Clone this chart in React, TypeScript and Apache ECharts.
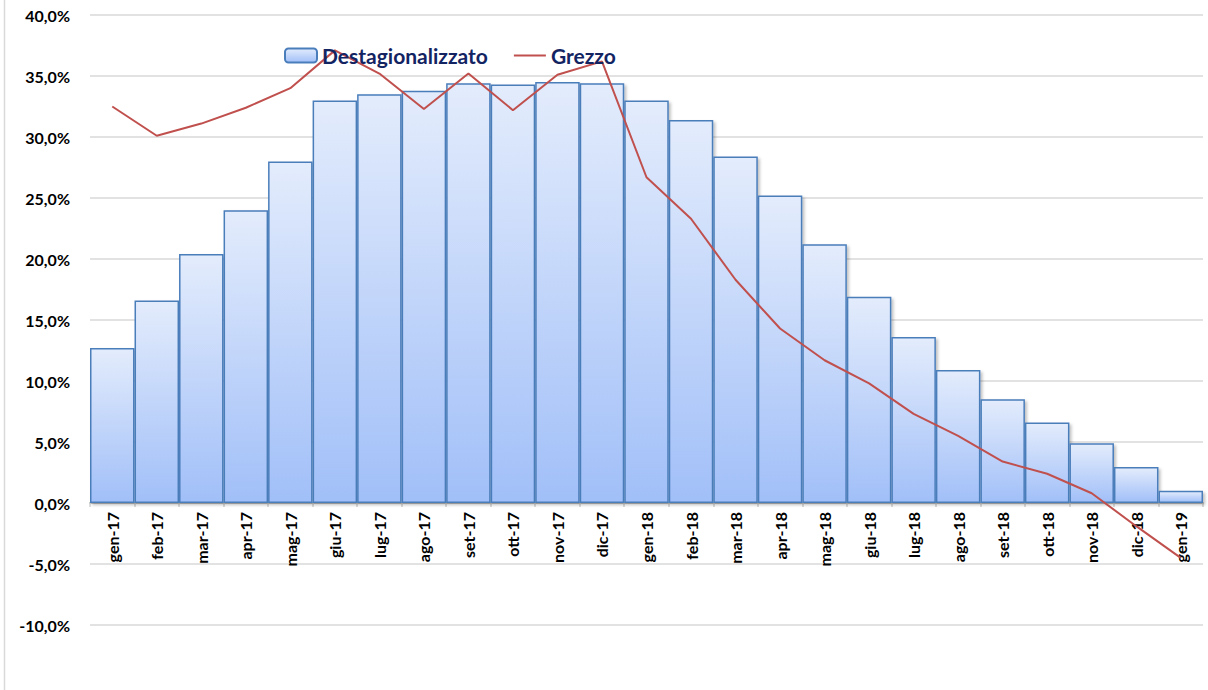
import React, { useEffect, useRef } from "react";
import * as echarts from "echarts";

const categories = [
  "gen-17", "feb-17", "mar-17", "apr-17", "mag-17", "giu-17", "lug-17", "ago-17",
  "set-17", "ott-17", "nov-17", "dic-17", "gen-18", "feb-18", "mar-18", "apr-18",
  "mag-18", "giu-18", "lug-18", "ago-18", "set-18", "ott-18", "nov-18", "dic-18", "gen-19",
];

const destagionalizzato = [
  12.7, 16.6, 20.4, 24.0, 28.0, 33.0, 33.5, 33.8, 34.4, 34.3, 34.5, 34.4,
  33.0, 31.4, 28.4, 25.2, 21.2, 16.9, 13.6, 10.9, 8.5, 6.6, 4.9, 2.95, 1.0,
];

const grezzo = [
  32.5, 30.1, 31.1, 32.4, 34.0, 37.1, 35.2, 32.3, 35.2, 32.2, 35.1, 36.2,
  26.7, 23.3, 18.3, 14.3, 11.7, 9.8, 7.3, 5.5, 3.4, 2.4, 0.8, -1.9, -4.5,
];

const FONT = "Lato, 'Liberation Sans', sans-serif";

export default function App() {
  const ref = useRef<HTMLDivElement>(null);

  useEffect(() => {
    if (!ref.current) return;
    const chart = echarts.init(ref.current, null, { renderer: "svg" });
    chart.setOption({
      animation: false,
      backgroundColor: "#ffffff",
      textStyle: { fontFamily: FONT },
      graphic: [
        {
          type: "line",
          shape: { x1: 4.5, y1: 0, x2: 4.5, y2: 690 },
          style: { stroke: "#d9d9d9", lineWidth: 1.5 },
        },
      ],
      legend: {
        left: 279,
        top: 40,
        itemWidth: 32,
        itemHeight: 14,
        itemGap: 26,
        textStyle: {
          fontFamily: FONT,
          fontWeight: "bold",
          fontSize: 21,
          color: "#132463",
        },
        data: [
          { name: "Destagionalizzato" },
          { name: "Grezzo", icon: "path://M0,0H32V2H0Z" },
        ],
      },
      grid: { left: 90, right: 5, top: 15, bottom: 65, containLabel: false },
      xAxis: {
        type: "category",
        data: categories,
        offset: -122,
        axisLine: { onZero: false, lineStyle: { color: "#bfbfbf", width: 2 } },
        axisTick: { show: true, length: 4, interval: 0, lineStyle: { color: "#d0d0d0", width: 1.5 } },
        axisLabel: {
          rotate: 90,
          interval: 0,
          margin: 9,
          fontFamily: FONT,
          fontWeight: "bold",
          fontSize: 16,
          color: "#000000",
        },
      },
      yAxis: {
        type: "value",
        min: -10,
        max: 40,
        interval: 5,
        axisLine: { show: false },
        axisTick: { show: false },
        splitLine: { lineStyle: { color: "#d9d9d9", width: 1.5 } },
        axisLabel: {
          margin: 20,
          fontFamily: FONT,
          fontWeight: "bold",
          fontSize: 16,
          color: "#000000",
          formatter: (v: number) => v.toFixed(1).replace(".", ",") + "%",
        },
      },
      series: [
        {
          name: "Destagionalizzato",
          type: "bar",
          data: destagionalizzato,
          barWidth: "100%",
          barCategoryGap: "0%",
          itemStyle: {
            color: new echarts.graphic.LinearGradient(0, 0, 0, 1, [
              { offset: 0, color: "#e3ecfc" },
              { offset: 1, color: "#a1bff8" },
            ]),
            borderColor: "#4a7ebb",
            borderWidth: 1.5,
            shadowColor: "rgba(0,0,0,0.25)",
            shadowBlur: 3,
            shadowOffsetX: 2,
            shadowOffsetY: 2,
          },
          z: 2,
        },
        {
          name: "Grezzo",
          type: "line",
          data: grezzo,
          symbol: "none",
          lineStyle: { color: "#c0504d", width: 2 },
          itemStyle: { color: "#c0504d" },
          z: 3,
        },
      ],
    });
    return () => chart.dispose();
  }, []);

  return (
    <div
      ref={ref}
      style={{ position: "fixed", left: 0, top: 0, width: 1208, height: 690 }}
    />
  );
}
